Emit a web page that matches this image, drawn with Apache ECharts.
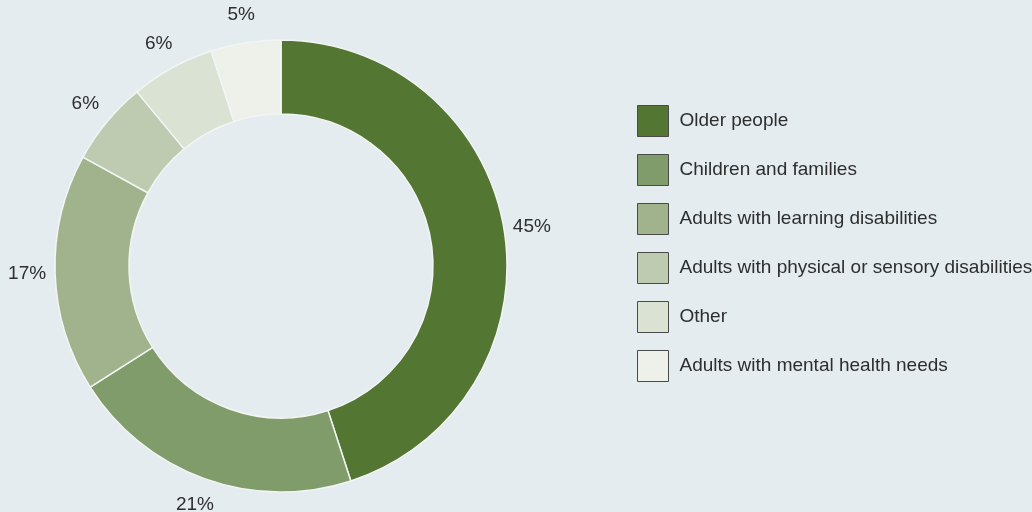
<!DOCTYPE html>
<html>
<head>
<meta charset="utf-8">
<script src="https://cdn.jsdelivr.net/npm/echarts@6/dist/echarts.min.js"></script>
<style>
  html, body { margin: 0; padding: 0; background: #e4ecef; }
  #chart { width: 1032px; height: 512px; }
</style>
</head>
<body>
<div id="chart"></div>
<script>
// Share of care by client group (percent)
const categories = [
  'Older people',
  'Children and families',
  'Adults with learning disabilities',
  'Adults with physical or sensory disabilities',
  'Other',
  'Adults with mental health needs'
];
const shares = [45, 21, 17, 6, 6, 5];
const palette = ['#537632', '#819c6b', '#a0b38c', '#bfcbb1', '#dae3d3', '#edf1ea'];

const chart = echarts.init(document.getElementById('chart'), null, { renderer: 'canvas' });

const fontFamily = '"Liberation Sans", Arial, Helvetica, sans-serif';
const ringCenter = [281, 266];
const pieData = categories.map((name, i) => ({ name: name, value: shares[i] }));

chart.setOption({
  backgroundColor: '#e4ecef',
  animation: false,
  color: palette,
  legend: {
    orient: 'vertical',
    left: 637,
    top: 105,
    padding: 0,
    icon: 'rect',
    itemWidth: 31,
    itemHeight: 31,
    itemGap: 17,
    itemStyle: { borderColor: '#4a4a4a', borderWidth: 1 },
    textStyle: {
      fontFamily: fontFamily,
      fontSize: 19,
      color: '#2e2e2e',
      padding: [0, 0, 0, 6]
    },
    selectedMode: false,
    data: categories
  },
  series: [
    {
      // the donut ring
      type: 'pie',
      center: ringCenter,
      radius: [152, 226],
      startAngle: 90,
      clockwise: true,
      itemStyle: { borderColor: '#f2f5f3', borderWidth: 1.5 },
      label: { show: false },
      labelLine: { show: false },
      emphasis: { disabled: true },
      data: pieData
    },
    {
      // transparent outer band carrying the percentage labels at its middle radius
      type: 'pie',
      center: ringCenter,
      radius: [226, 276],
      startAngle: 90,
      clockwise: true,
      silent: true,
      itemStyle: { color: 'rgba(0,0,0,0)' },
      label: {
        show: true,
        position: 'inside',
        formatter: '{c}%',
        fontFamily: fontFamily,
        fontSize: 19,
        color: '#2e2e2e'
      },
      labelLine: { show: false },
      emphasis: { disabled: true },
      data: pieData
    }
  ]
});
</script>
</body>
</html>
